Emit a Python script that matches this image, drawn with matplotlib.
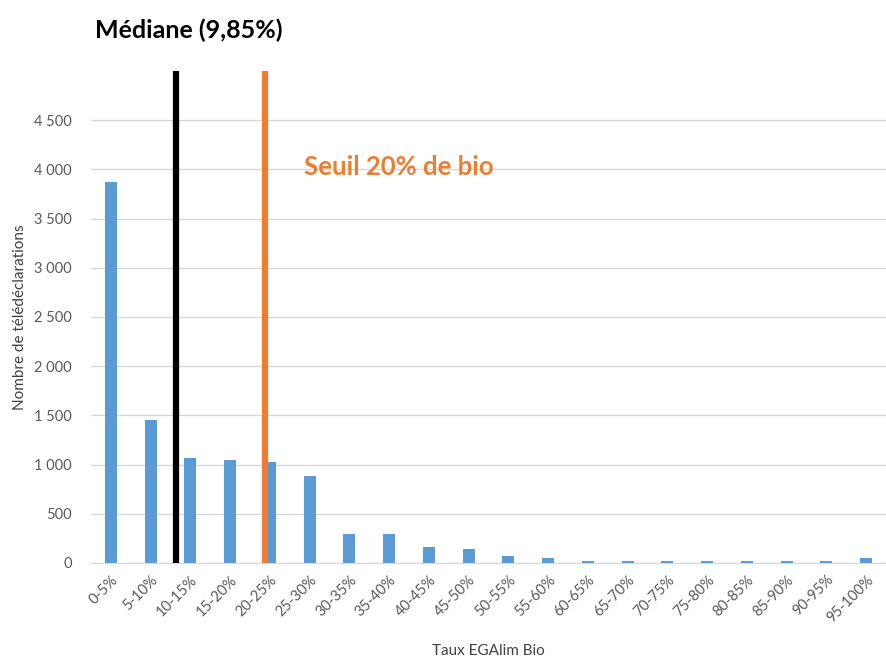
import matplotlib.pyplot as plt
from matplotlib.ticker import FuncFormatter

categories = ['0-5%', '5-10%', '10-15%', '15-20%', '20-25%', '25-30%', '30-35%',
              '35-40%', '40-45%', '45-50%', '50-55%', '55-60%', '60-65%', '65-70%',
              '70-75%', '75-80%', '80-85%', '85-90%', '90-95%', '95-100%']
counts = [3870, 1450, 1065, 1045, 1025, 885, 290, 290, 165, 145,
          70, 50, 25, 25, 25, 25, 25, 25, 25, 50]
median_pos = 1.65   # position of the median marker on the category axis
seuil_pos = 3.88    # position of the 20% threshold marker

plt.rcParams['font.family'] = ['Lato', 'DejaVu Sans']

fig = plt.figure(figsize=(8.86, 6.57), dpi=100)
ax = fig.add_axes([91 / 886, 94 / 657, 795 / 886, 492 / 657])

x = range(len(categories))
ax.bar(x, counts, width=0.3, color='#5B9BD5', zorder=2)

ax.axvline(median_pos, color='black', lw=4.5, zorder=3)
ax.axvline(seuil_pos, color='#ED7D31', lw=4.5, zorder=3)

ax.set_xlim(-0.5, len(categories) - 0.5)
ax.set_ylim(0, 5000)
ax.set_yticks(range(0, 5000, 500))
ax.yaxis.set_major_formatter(FuncFormatter(lambda v, p: f'{int(v):,}'.replace(',', '\u202f')))
ax.grid(axis='y', color='#D9D9D9', lw=1, zorder=0)
ax.set_axisbelow(True)

ax.set_xticks(list(x))
ax.set_xticklabels(categories, rotation=45, ha='right', rotation_mode='anchor')
ax.tick_params(axis='both', length=0, labelsize=10.5, colors='#595959')
ax.tick_params(axis='y', pad=14)
ax.tick_params(axis='x', pad=7)

for s in ['top', 'right', 'left']:
    ax.spines[s].set_visible(False)
ax.spines['bottom'].set_color('#D9D9D9')

ax.set_ylabel('Nombre de télédéclarations', fontsize=11, color='#404040', labelpad=5)
ax.set_xlabel('Taux EGAlim Bio', fontsize=11, color='#404040', labelpad=14)

ax.text(4.87, 4020, 'Seuil 20% de bio', color='#ED7D31', fontsize=18.5,
        fontweight='bold', va='center', ha='left')
fig.text(95 / 886, 1 - 30 / 657, 'Médiane (9,85%)', color='black', fontsize=18,
         fontweight='bold', va='center', ha='left')

fig.savefig('out.png', dpi=100)
